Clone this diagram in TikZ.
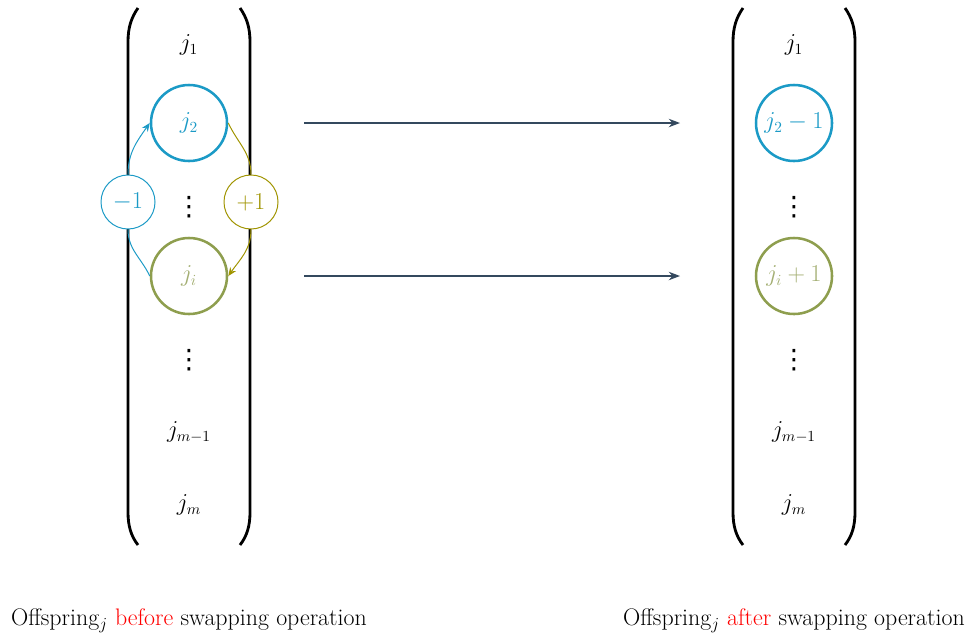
\documentclass[tikz,border=0pt]{standalone}
\usepackage{fontspec}
\usetikzlibrary{arrows.meta}
\newfontfamily\dotsfont{DejaVu Sans}
\definecolor{cblue}{HTML}{1B9AC6}
\definecolor{colive}{HTML}{8E9E4E}
\definecolor{colivetext}{HTML}{A3AE72}
\definecolor{cyellow}{HTML}{A09400}
\definecolor{cslate}{HTML}{34495E}
\begin{document}
\begin{tikzpicture}[x=0.025cm,y=-0.025cm,
  every node/.style={font=\fontsize{16}{19}\selectfont},
  entry/.style={inner sep=0pt},
  vdotsentry/.style={inner sep=0pt,font=\dotsfont\fontsize{19}{22}\selectfont},
  bigring/.style={circle,line width=1.8pt,minimum size=1.9cm,inner sep=0pt},
  smallring/.style={circle,line width=0.7pt,minimum size=1.35cm,inner sep=0pt,fill=white,font=\fontsize{17}{20}\selectfont},
  bracket/.style={line width=2pt,black},
  swap/.style={cslate,line width=0.9pt,-{Stealth[length=8pt,width=6pt]}},
  caption/.style={font=\fontsize{17}{20}\selectfont}]
\useasboundingbox (0,0) rectangle (970,640);

% brackets of the first vector
\draw[bracket] (138,8) .. controls (131,18) and (128,28) .. (128,42) -- (128,512) .. controls (128,526) and (131,536) .. (138,545);
\draw[bracket] (240,8) .. controls (247,18) and (250,28) .. (250,42) -- (250,512) .. controls (250,526) and (247,536) .. (240,545);
% brackets of the second vector
\draw[bracket] (743,8) .. controls (736,18) and (733,28) .. (733,42) -- (733,512) .. controls (733,526) and (736,536) .. (743,545);
\draw[bracket] (845,8) .. controls (852,18) and (855,28) .. (855,42) -- (855,512) .. controls (855,526) and (852,536) .. (845,545);

% entries before swapping
\node[entry] (a1) at (189,45) {$j_1$};
\node[bigring,draw=cblue,text=cblue] (a2) at (189,123) {$j_2$};
\node[vdotsentry] (ad1) at (189,207) {⋮};
\node[bigring,draw=colive,text=colivetext] (ai) at (189,276) {$j_i$};
\node[vdotsentry] (ad2) at (189,360) {⋮};
\node[entry] (am1) at (189,432) {$j_{m-1}$};
\node[entry] (am) at (189,505) {$j_m$};

% entries after swapping
\node[entry] (b1) at (794,45) {$j_1$};
\node[bigring,draw=cblue,text=cblue] (b2) at (794,123) {$j_2-1$};
\node[vdotsentry] (bd1) at (794,207) {⋮};
\node[bigring,draw=colive,text=colivetext] (bi) at (794,276) {$j_i+1$};
\node[vdotsentry] (bd2) at (794,360) {⋮};
\node[entry] (bm1) at (794,432) {$j_{m-1}$};
\node[entry] (bm) at (794,505) {$j_m$};

% the two changes
\node[smallring,draw=cblue,text=cblue] (minus) at (128,202) {$-1$};
\node[smallring,draw=cyellow,text=cyellow] (plus) at (251,202) {$+1$};

\draw[cblue,line width=0.7pt] (ai.west) to[out=115,in=-90] (minus.south);
\draw[cblue,line width=0.7pt,-{Stealth[length=6pt,width=5pt]}] (minus.north) to[out=90,in=235] (a2.west);
\draw[cyellow,line width=0.7pt] (a2.east) to[out=-65,in=90] (plus.north);
\draw[cyellow,line width=0.7pt,-{Stealth[length=6pt,width=5pt]}] (plus.south) to[out=-90,in=55] (ai.east);

% swapping arrows
\coordinate (s1) at (304,123);
\coordinate (e1) at (680,123);
\coordinate (s2) at (304,276);
\coordinate (e2) at (680,276);
\draw[swap] (s1) -- (e1);
\draw[swap] (s2) -- (e2);

% captions
\node[caption] (capa) at (189,621) {Offspring$_j$ \textcolor{red}{before} swapping operation};
\node[caption] (capb) at (794,621) {Offspring$_j$ \textcolor{red}{after} swapping operation};
\end{tikzpicture}
\end{document}
